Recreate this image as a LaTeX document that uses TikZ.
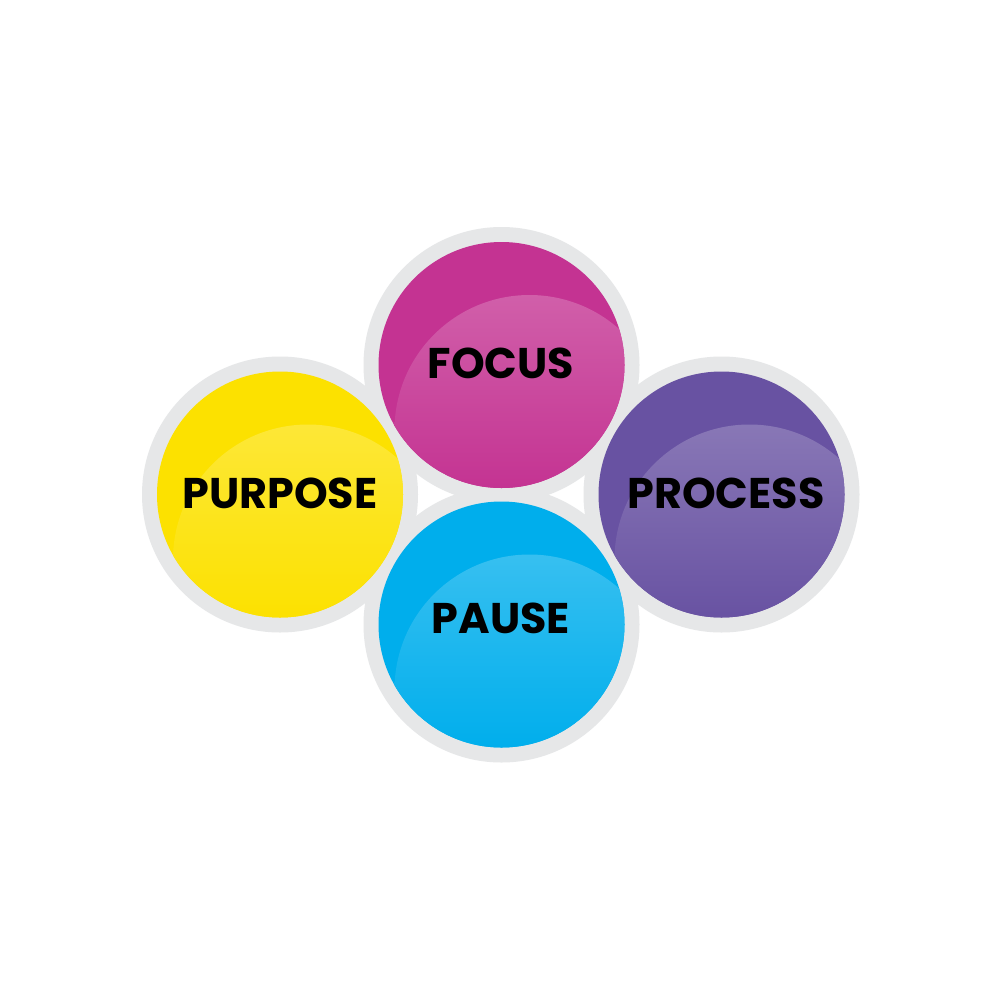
\documentclass[tikz,border=0pt]{standalone}
\usepackage{fontspec}
\usetikzlibrary{calc}
\newfontfamily\labelfont{Poppins}
\definecolor{ringgray}{HTML}{E6E7E8}
\definecolor{cmag}{HTML}{C43392}
\definecolor{cyel}{HTML}{FCE100}
\definecolor{cpur}{HTML}{6852A2}
\definecolor{ccya}{HTML}{00AEEC}
\tikzset{
  ring/.style={fill=ringgray, draw=none},
  ball/.style={draw=none},
  lbl/.style={font=\labelfont\bfseries\fontsize{12.2}{14}\selectfont, text=black, inner sep=0pt}
}
\newcommand{\gloss}[2]{%
  \begin{scope}
    \clip (#1) circle[radius=123];
    \clip ($(#1)+(28,65)$) circle[radius=135];
    \shade[top color=white!22!#2, bottom color=#2]
      ($(#1)+(-130,-75)$) rectangle ($(#1)+(130,125)$);
  \end{scope}}
\begin{document}
\begin{tikzpicture}[x=0.01cm, y=-0.01cm]
\useasboundingbox (0,0) rectangle (1000,1000);
\fill[white] (0,0) rectangle (1000,1000);
\coordinate (cf) at (501.5,365);
\coordinate (cl) at (280,494.5);
\coordinate (cr) at (721.5,494.5);
\coordinate (cp) at (501.5,624.5);
% grey rings
\foreach \c in {cf,cl,cr,cp} \fill[ring] (\c) circle[radius=138];
% coloured discs
\fill[ball, cmag] (cf) circle[radius=123];
\fill[ball, cyel] (cl) circle[radius=123];
\fill[ball, cpur] (cr) circle[radius=123];
\fill[ball, ccya] (cp) circle[radius=123];
% gloss
\gloss{cf}{cmag}
\gloss{cl}{cyel}
\gloss{cr}{cpur}
\gloss{cp}{ccya}
% labels
\node[lbl] (focus) at (501,363) {FOCUS};
\node[lbl] (purpose) at (280,493) {PURPOSE};
\node[lbl] (process) at (726,493) {PROCESS};
\node[lbl] (pause) at (501,618) {PAUSE};
\end{tikzpicture}
\end{document}
